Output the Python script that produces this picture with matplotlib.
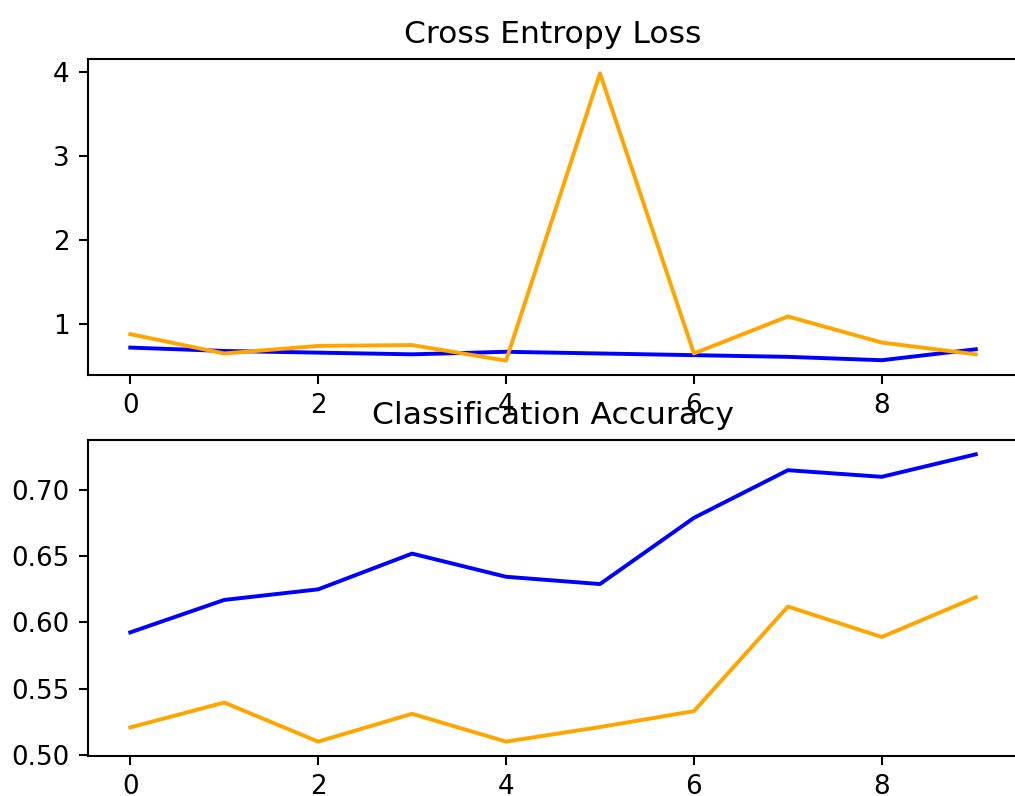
import matplotlib
matplotlib.use("Agg")
import matplotlib.pyplot as plt

# per-epoch values
epochs = list(range(10))
train_loss = [0.72, 0.68, 0.66, 0.64, 0.67, 0.65, 0.63, 0.61, 0.57, 0.70]
test_loss = [0.88, 0.65, 0.74, 0.75, 0.565, 3.98, 0.65, 1.09, 0.78, 0.64]
train_acc = [0.5925, 0.617, 0.625, 0.652, 0.6345, 0.629, 0.679, 0.715, 0.710, 0.727]
test_acc = [0.5207, 0.5395, 0.510, 0.531, 0.510, 0.521, 0.533, 0.612, 0.589, 0.619]

DPI = 188
fig = plt.figure(figsize=(1016 / DPI, 796 / DPI), dpi=DPI)

# default 211/212 layout, cropped the way the reference is
ax1 = fig.add_axes([0.0866, 0.5289, 0.9154, 0.397])
ax1.set_title("Cross Entropy Loss")
ax1.plot(epochs, train_loss, color="blue", label="train")
ax1.plot(epochs, test_loss, color="orange", label="test")

ax2 = fig.add_axes([0.0866, 0.0503, 0.9154, 0.397])
ax2.set_title("Classification Accuracy")
ax2.plot(epochs, train_acc, color="blue", label="train")
ax2.plot(epochs, test_acc, color="orange", label="test")

fig.savefig("out.png", dpi=DPI)
plt.close(fig)
